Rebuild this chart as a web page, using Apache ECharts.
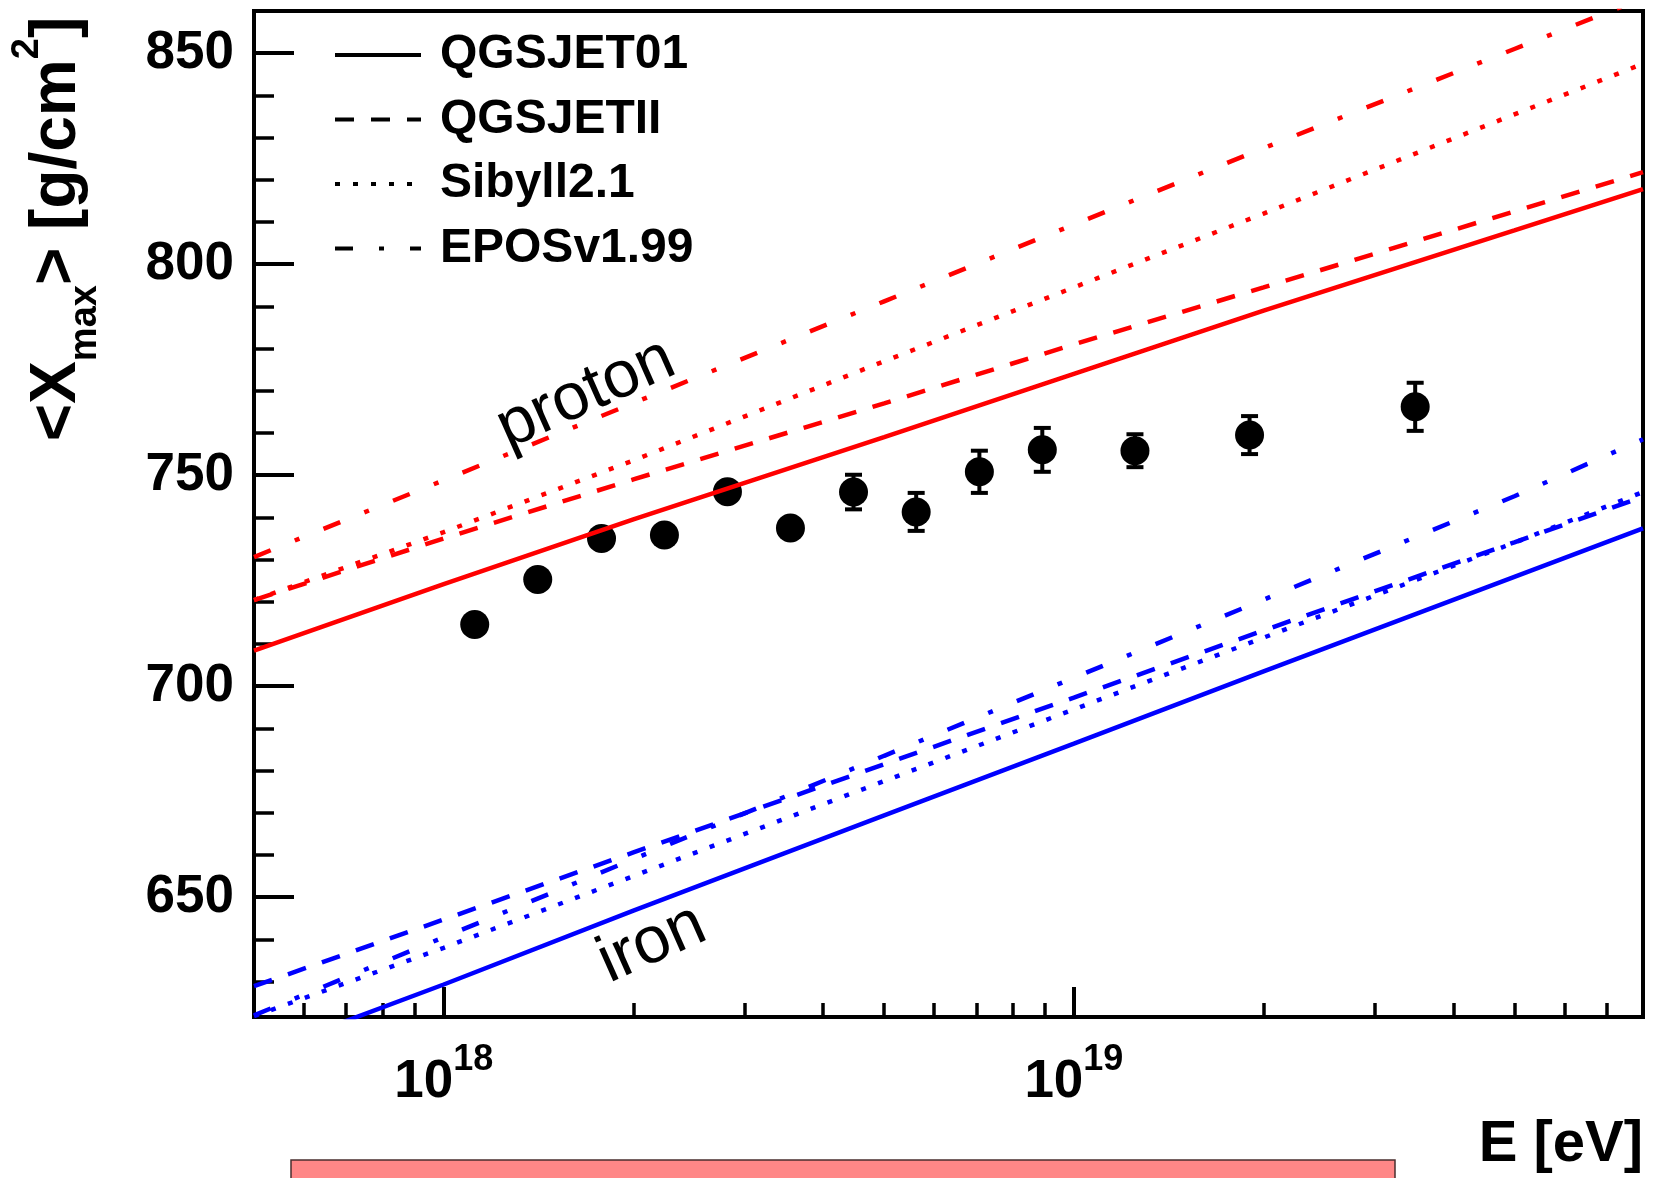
<!DOCTYPE html>
<html>
<head>
<meta charset="utf-8">
<script src="https://cdn.jsdelivr.net/npm/echarts@6/dist/echarts.min.js"></script>
<style>
html,body{margin:0;padding:0;background:#ffffff;}
#chart{width:1655px;height:1178px;}
</style>
</head>
<body>
<div id="chart"></div>
<script>
// ---------------- data ----------------
const modelNames = ['QGSJET01', 'QGSJETII', 'Sibyll2.1', 'EPOSv1.99'];
const curveEnergies = [5e17, 1e18, 2e18, 5e18, 1e19, 2e19, 5e19, 8e19];

const protonQGSJET01 = [708.4, 724.2, 739.5, 759.0, 774.0, 789.0, 808.0, 817.8];
const protonQGSJETII = [720.4, 735.0, 749.0, 767.0, 781.0, 794.5, 812.5, 821.8];
const protonSibyll   = [720.4, 736.5, 753.5, 777.0, 794.5, 812.0, 835.5, 847.5];
const protonEPOS     = [730.6, 748.8, 767.1, 791.2, 809.4, 827.5, 851.0, 863.0];

const ironQGSJET01 = [612.5, 629.3, 646.8, 669.4, 686.4, 703.5, 725.9, 737.4];
const ironQGSJETII = [628.9, 644.7, 660.6, 681.5, 697.3, 713.2, 734.1, 744.9];
const ironSibyll   = [621.8, 638.0, 655.0, 677.5, 694.5, 711.5, 734.0, 746.0];
const ironEPOS     = [622.0, 640.5, 659.0, 683.5, 702.0, 720.5, 745.0, 758.5];

const dataEnergy = [1.12e18, 1.41e18, 1.78e18, 2.24e18, 2.82e18, 3.55e18, 4.47e18, 5.62e18, 7.08e18, 8.91e18, 1.25e19, 1.90e19, 3.48e19];
const dataXmax   = [714.6, 725.3, 735.0, 735.8, 746.1, 737.5, 746.0, 741.3, 750.8, 756.0, 755.8, 759.5, 766.2];
const dataErr    = [2.0, 2.5, 2.5, 3.0, 3.0, 3.0, 4.1, 4.5, 5.0, 5.2, 3.9, 4.5, 5.7];

const yMajorTicks = [650, 700, 750, 800, 850];
const yMinorTicks = [630, 640, 660, 670, 680, 690, 710, 720, 730, 740, 760, 770, 780, 790, 810, 820, 830, 840];
const xMajorTicks = [1e18, 1e19];
const xMinorTicks = [6e17, 7e17, 8e17, 9e17, 2e18, 3e18, 4e18, 5e18, 6e18, 7e18, 8e18, 9e18, 2e19, 3e19, 4e19, 5e19, 6e19, 7e19];
const energyRange = [5e17, 8e19];
const xmaxRange = [621.6, 860];

// ---------------- build ----------------
const FONT = 'Liberation Sans';
const lx = e => Math.log10(e);
const xMin = lx(energyRange[0]), xMax = lx(energyRange[1]);

const protonCurves = { 'QGSJET01': protonQGSJET01, 'QGSJETII': protonQGSJETII, 'Sibyll2.1': protonSibyll, 'EPOSv1.99': protonEPOS };
const ironCurves   = { 'QGSJET01': ironQGSJET01,   'QGSJETII': ironQGSJETII,   'Sibyll2.1': ironSibyll,   'EPOSv1.99': ironEPOS };
const dashOf = { 'QGSJET01': 'solid', 'QGSJETII': [19, 17], 'Sibyll2.1': [5, 13], 'EPOSv1.99': [18, 26, 5, 26] };

function curveData(vals) { return curveEnergies.map((e, i) => [lx(e), vals[i]]); }
function lineSeries(name, vals, color) {
  return {
    type: 'line', name: name, data: curveData(vals),
    xAxisIndex: 0, yAxisIndex: 0,
    symbol: 'none', showSymbol: false, smooth: false, clip: true, silent: true,
    lineStyle: { color: color, width: 4.5, type: dashOf[name], cap: 'butt' },
    itemStyle: { color: color },
    z: 4
  };
}

const series = [];
series.push({
  type: 'custom', name: 'errors',
  xAxisIndex: 0, yAxisIndex: 0,
  data: dataEnergy.map((e, i) => [lx(e), dataXmax[i], dataErr[i]]),
  renderItem: function (params, api) {
    const x = api.value(0), y = api.value(1), er = api.value(2);
    const top = api.coord([x, y + er]);
    const bot = api.coord([x, y - er]);
    if ((bot[1] - top[1]) / 2 <= 15) return null;
    const cap = 8.5;
    const st = { stroke: '#000', lineWidth: 4 };
    return { type: 'group', children: [
      { type: 'line', shape: { x1: top[0], y1: top[1], x2: bot[0], y2: bot[1] }, style: st },
      { type: 'line', shape: { x1: top[0] - cap, y1: top[1], x2: top[0] + cap, y2: top[1] }, style: st },
      { type: 'line', shape: { x1: bot[0] - cap, y1: bot[1], x2: bot[0] + cap, y2: bot[1] }, style: st }
    ]};
  },
  z: 2, silent: true
});
series.push({
  type: 'scatter', name: 'data',
  xAxisIndex: 0, yAxisIndex: 0,
  data: dataEnergy.map((e, i) => [lx(e), dataXmax[i]]),
  symbol: 'circle', symbolSize: 29,
  itemStyle: { color: '#000', opacity: 1 }, z: 3, silent: true
});
modelNames.forEach(n => series.push(lineSeries(n, protonCurves[n], '#ff0000')));
modelNames.forEach(n => series.push(lineSeries(n, ironCurves[n], '#0000ff')));

const axisCommonX = {
  type: 'value', min: xMin, max: xMax, position: 'bottom',
  splitLine: { show: false }, minorTick: { show: false }, minorSplitLine: { show: false }
};
const axisCommonY = {
  type: 'value', min: xmaxRange[0], max: xmaxRange[1], position: 'left',
  splitLine: { show: false }, minorTick: { show: false }, minorSplitLine: { show: false }
};

const option = {
  animation: false,
  backgroundColor: '#ffffff',
  textStyle: { fontFamily: FONT },
  grid: { left: 254, right: 12, top: 11, bottom: 161, show: true, borderColor: '#000', borderWidth: 4,
          backgroundColor: 'transparent', containLabel: false, outerBoundsMode: 'none' },
  legend: {
    show: true, orient: 'vertical', left: 333, top: 30, padding: 0,
    itemWidth: 86, itemHeight: 20, itemGap: 14.5, selectedMode: false,
    data: modelNames.map(n => ({ name: n, itemStyle: { color: '#000', opacity: 0 }, lineStyle: { color: '#000', width: 4, opacity: 1 } })),
    textStyle: { fontSize: 48, fontWeight: 'bold', fontFamily: FONT, color: '#000', lineHeight: 50, padding: [0, 0, 0, 14] }
  },
  xAxis: [
    Object.assign({}, axisCommonX, {
      axisLine: { show: true, onZero: false, lineStyle: { color: '#000', width: 4 } },
      axisTick: { show: true, inside: true, length: 30, lineStyle: { color: '#000', width: 4 }, customValues: xMajorTicks.map(lx) },
      axisLabel: {
        show: true, customValues: xMajorTicks.map(lx), margin: 25,
        formatter: v => '{b|10}{s|' + Math.round(v) + '}',
        rich: {
          b: { fontSize: 53, fontWeight: 'bold', fontFamily: FONT, color: '#000', lineHeight: 80 },
          s: { fontSize: 36, fontWeight: 'bold', fontFamily: FONT, color: '#000', lineHeight: 24, verticalAlign: 'top' }
        }
      },
      name: 'E [eV]', nameLocation: 'end', nameGap: 0,
      nameTextStyle: { fontSize: 58, fontWeight: 'bold', fontFamily: FONT, color: '#000', align: 'right', verticalAlign: 'top', lineHeight: 58, padding: [99, 0, 0, 0] }
    }),
    Object.assign({}, axisCommonX, {
      axisLine: { show: false, onZero: false },
      axisTick: { show: true, inside: true, length: 14, lineStyle: { color: '#000', width: 3.5 }, customValues: xMinorTicks.map(lx) },
      axisLabel: { show: false }
    })
  ],
  yAxis: [
    Object.assign({}, axisCommonY, {
      axisLine: { show: true, onZero: false, lineStyle: { color: '#000', width: 4 } },
      axisTick: { show: true, inside: true, length: 40, lineStyle: { color: '#000', width: 4 }, customValues: yMajorTicks },
      axisLabel: { show: true, customValues: yMajorTicks, margin: 20, fontSize: 53, fontWeight: 'bold', fontFamily: FONT, color: '#000' }
    }),
    Object.assign({}, axisCommonY, {
      axisLine: { show: false, onZero: false },
      axisTick: { show: true, inside: true, length: 20, lineStyle: { color: '#000', width: 3.5 }, customValues: yMinorTicks },
      axisLabel: { show: false }
    })
  ],
  graphic: [
    {
      type: 'text', x: 57, y: 229, rotation: Math.PI / 2, z: 10,
      style: {
        text: '{a|<X}{b|max}{a|> [g/cm}{c|2}{a|]}',
        align: 'center', verticalAlign: 'middle', fill: '#000',
        rich: {
          a: { fontSize: 64, fontWeight: 'bold', fontFamily: FONT, fill: '#000', lineHeight: 96 },
          b: { fontSize: 38, fontWeight: 'bold', fontFamily: FONT, fill: '#000', lineHeight: 69, verticalAlign: 'bottom' },
          c: { fontSize: 38, fontWeight: 'bold', fontFamily: FONT, fill: '#000', lineHeight: 38, verticalAlign: 'top' }
        }
      }
    },
    {
      type: 'text', x: 586, y: 394, rotation: 24 * Math.PI / 180, z: 10,
      style: { text: 'proton', fontSize: 66, fontFamily: FONT, fill: '#000', align: 'center', verticalAlign: 'middle' }
    },
    {
      type: 'text', x: 652, y: 944, rotation: 24 * Math.PI / 180, z: 10,
      style: { text: 'iron', fontSize: 66, fontFamily: FONT, fill: '#000', align: 'center', verticalAlign: 'middle' }
    },
    {
      type: 'rect', z: 10,
      shape: { x: 291, y: 1160, width: 1104, height: 40 },
      style: { fill: '#ff8787', stroke: '#4a2f2f', lineWidth: 1.5 }
    }
  ],
  series: series
};

const chart = echarts.init(document.getElementById('chart'), null, { renderer: 'canvas' });
chart.setOption(option);
</script>
</body>
</html>
